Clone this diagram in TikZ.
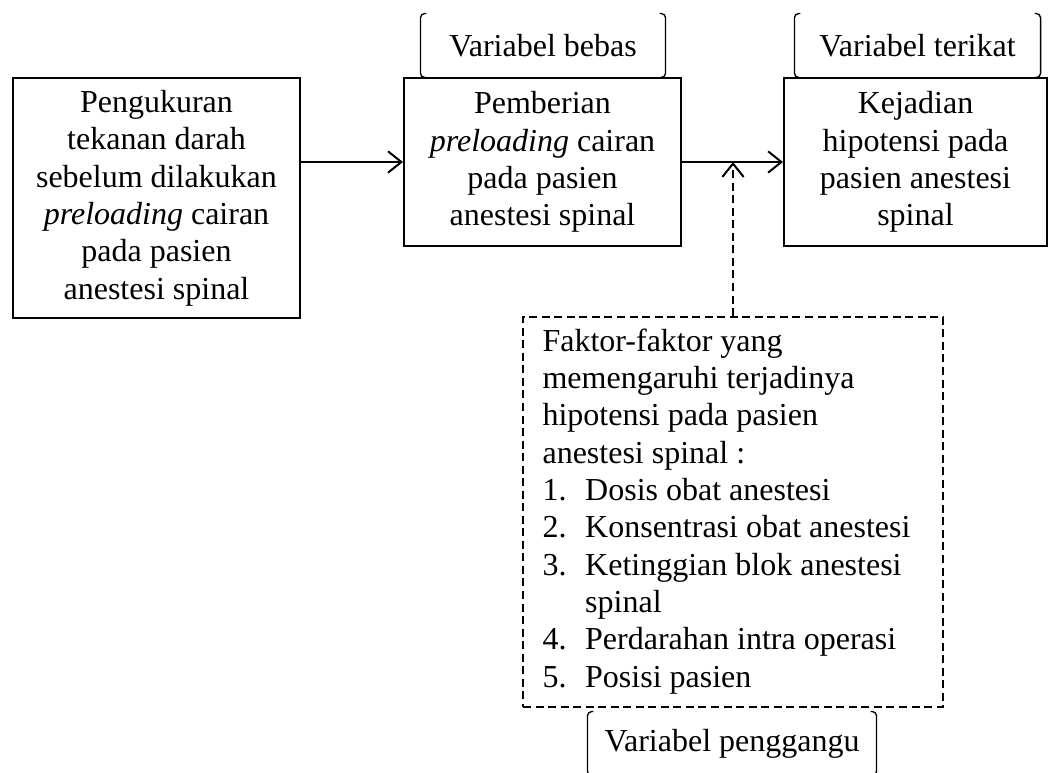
\documentclass[tikz,border=0pt]{standalone}
\usepackage{fontspec}
\setmainfont{Liberation Serif}
\usetikzlibrary{arrows.meta,calc}
\begin{document}
\begin{tikzpicture}[x=0.375pt,y=-0.375pt,
  every node/.style={font=\fontsize{12}{14}\selectfont, inner sep=0pt},
  solidbox/.style={draw, line width=0.75pt, align=center},
  dbox/.style={draw, line width=0.7pt, dash pattern=on 3pt off 1.7pt},
  lab/.style={minimum height=23.6pt},
  brk/.style={line width=0.5pt, rounded corners=1.6pt},
  arr/.style={line width=0.75pt, -{Straight Barb[length=5pt,width=8pt,line width=0.75pt]}},
  darr/.style={line width=0.75pt, dash pattern=on 3pt off 1.7pt, -{Straight Barb[length=5pt,width=8pt,line width=0.75pt]}}
]
\useasboundingbox (0,0) rectangle (1048,772);
\clip (0,0) rectangle (1048,772);

% main boxes
\node[solidbox, minimum width=107.6pt, minimum height=90pt] (b1) at (156.5,198)
  {Pengukuran\\tekanan darah\\sebelum dilakukan\\\textit{preloading} cairan\\pada pasien\\anestesi spinal};
\node[solidbox, minimum width=103.9pt, minimum height=63pt] (b2) at (542.5,162)
  {Pemberian\\\textit{preloading} cairan\\pada pasien\\anestesi spinal};
\node[solidbox, minimum width=98.6pt, minimum height=63pt] (b3) at (915.5,162)
  {Kejadian\\hipotensi pada\\pasien anestesi\\spinal};

% dashed box
\node[dbox, minimum width=157.5pt, minimum height=146.25pt] (fk) at (733,512) {};
\node[anchor=north west, align=left] (fkt) at (542,328)
  {Faktor-faktor yang\\
   memengaruhi terjadinya\\
   hipotensi pada pasien\\
   anestesi spinal :\\
   \makebox[16pt][l]{1.}Dosis obat anestesi\\
   \makebox[16pt][l]{2.}Konsentrasi obat anestesi\\
   \makebox[16pt][l]{3.}Ketinggian blok anestesi\\
   \makebox[16pt][l]{}spinal\\
   \makebox[16pt][l]{4.}Perdarahan intra operasi\\
   \makebox[16pt][l]{5.}Posisi pasien};

% variable labels
\node[lab, minimum width=91.5pt] (vb) at (543,45.5) {Variabel bebas};
\node[lab, minimum width=91.9pt] (vt) at (917.5,45.5) {Variabel terikat};
\node[lab, minimum width=108pt] (vp) at (732,743.5) {Variabel penggangu};

\foreach \n in {vb,vt,vp}{
  \draw[brk] ($(\n.north west)+(6,0)$) -- (\n.north west) -- (\n.south west) -- ($(\n.south west)+(6,0)$);
  \draw[brk] ($(\n.north east)+(-6,0)$) -- (\n.north east) -- (\n.south east) -- ($(\n.south east)+(-6,0)$);
}

% connectors
\draw[arr] (b1.east |- b2.west) -- (b2.west);
\draw[arr] (b2.east) -- (b3.west);
\draw[darr] (fk.north) -- (fk.north |- b2.east);
\end{tikzpicture}
\end{document}
